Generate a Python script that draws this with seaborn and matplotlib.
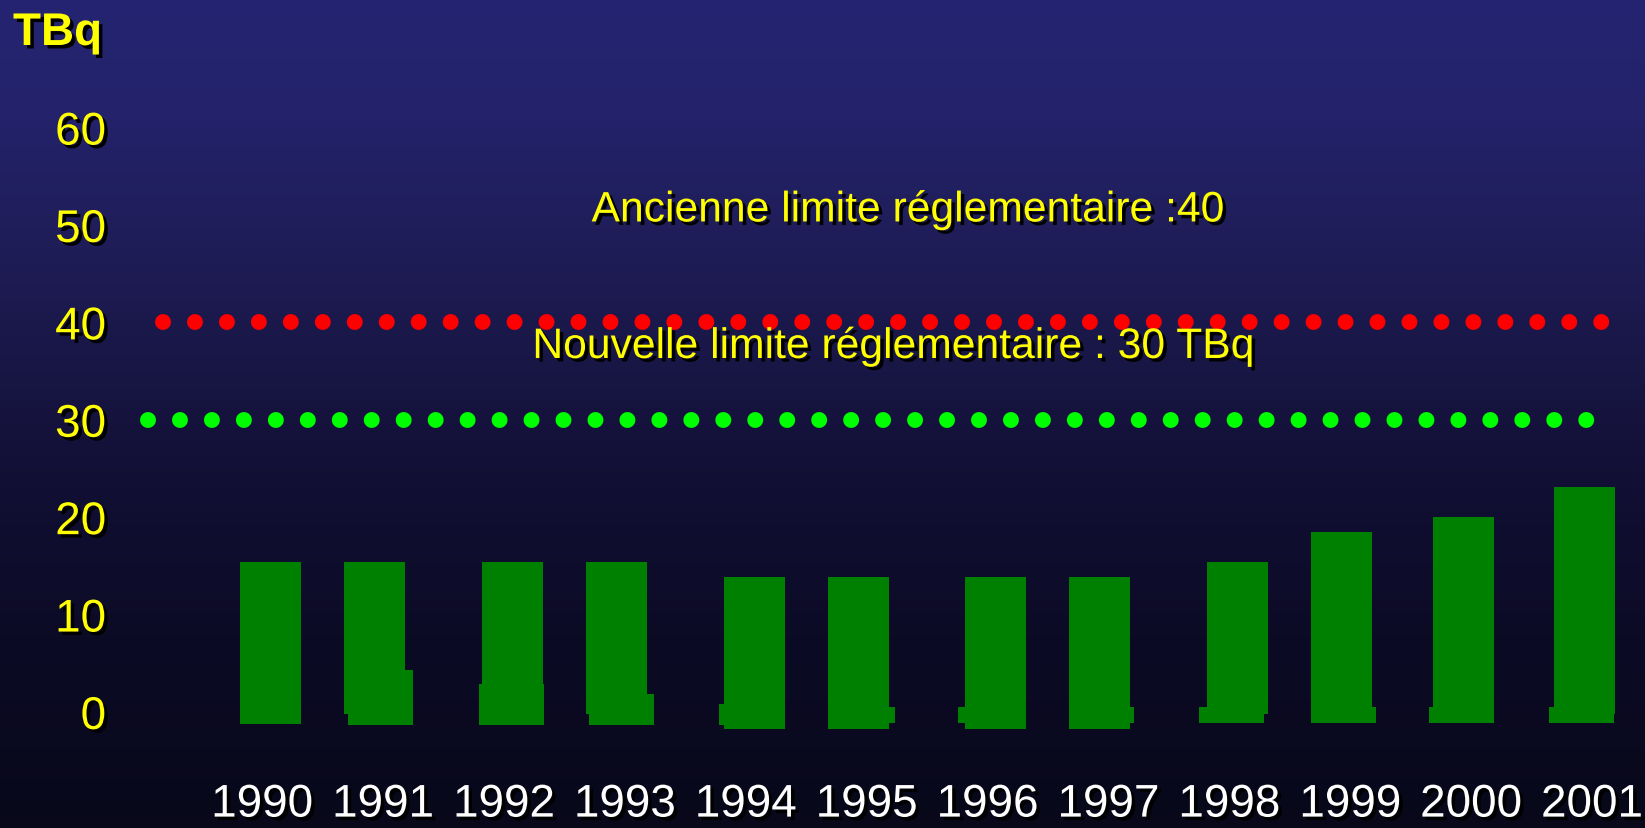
import numpy as np
import pandas as pd
import matplotlib
matplotlib.use("Agg")
import matplotlib.pyplot as plt
import seaborn as sns
from matplotlib import patheffects as pe
from matplotlib.colors import LinearSegmentedColormap

# Rejets annuels (TBq)
annees = ["1990", "1991", "1992", "1993", "1994", "1995",
          "1996", "1997", "1998", "1999", "2000", "2001"]
rejet_haut = [15.4, 15.4, 15.4, 15.4, 13.9, 13.9, 13.9, 13.9, 15.4, 18.5, 20.0, 23.1]
rejet_bas = [-1.2, -0.2, -0.2, -0.2, -1.7, -1.7, -1.7, -1.7, -0.2, -0.2, -0.2, -0.2]
socle_haut = [np.nan, 4.3, 2.9, 1.8, 0.8, 0.5, 0.5, 0.5, 0.5, 0.5, 0.5, 0.5]
socle_bas = [np.nan, -1.3, -1.3, -1.3, -1.3, -1.1, -1.1, -1.1, -1.1, -1.1, -1.1, -1.1]

ancienne_limite = 40
nouvelle_limite = 30
graduations = [0, 10, 20, 30, 40, 50, 60]

texte_ancienne = "Ancienne limite réglementaire :40"
texte_nouvelle = "Nouvelle limite réglementaire : 30 TBq"
unite = "TBq"

sns.set_theme(style="white")
plt.rcParams["font.family"] = ["Liberation Sans", "DejaVu Sans"]

JAUNE = "#ffff00"
VERT_BARRE = "#008000"
W, H = 1645, 829

fig = plt.figure(figsize=(W / 100, H / 100), dpi=100)

# fond dégradé bleu nuit
bg = fig.add_axes([0, 0, 1, 1], zorder=-10)
stops = [(0.0, (37, 36, 114)), (0.145, (35, 34, 106)), (0.30, (31, 29, 87)),
         (0.45, (24, 22, 68)), (0.59, (17, 15, 51)), (0.77, (12, 11, 38)),
         (1.0, (8, 8, 26))]
cmap = LinearSegmentedColormap.from_list(
    "fond", [(p, tuple(c / 255 for c in rgb)) for p, rgb in stops])
grad = np.linspace(0, 1, 512).reshape(-1, 1)
bg.imshow(grad, aspect="auto", cmap=cmap, extent=[0, 1, 0, 1], origin="upper")
bg.set_axis_off()

ax_left, ax_bottom_px = 120, 760
ax = fig.add_axes([ax_left / W, (H - ax_bottom_px) / H, (W - ax_left) / W, ax_bottom_px / H])
ax.set_facecolor("none")

df = pd.DataFrame({
    "annee": annees,
    "hauteur": np.array(rejet_haut) - np.array(rejet_bas),
    "bas": rejet_bas,
})
sns.barplot(data=df, x="annee", y="hauteur", bottom=df["bas"].to_numpy(),
            color=VERT_BARRE, saturation=1, width=0.505, errorbar=None,
            linewidth=0, ax=ax)

# léger décalage des barres par paires
decalage = np.array([8.5, -8.5, 8.5, -8.5, 8.5, -8.5, 8.5, -8.5, 8.5, -8.5, -7.5, -7.5]) / 120.9
for p, dx in zip(ax.patches, decalage):
    p.set_x(p.get_x() + dx)

# socles sous les barres
decalage_socle = np.array([0, 6, -1, 5, -3, 4, -5, 2, -6, 2, -2, -3]) / 120.9
pos = np.arange(len(annees))
ax.bar(pos + decalage + decalage_socle,
       np.array(socle_haut) - np.array(socle_bas), bottom=socle_bas,
       width=0.538, color=VERT_BARRE, linewidth=0)

# limites réglementaires en pointillés
ax.hlines(ancienne_limite, -0.82, 11.15, colors="#ff0000", linewidth=11.5,
          linestyles=[(0, (0.001, 2.0))], capstyle="round", zorder=3)
ax.hlines(nouvelle_limite, -0.94, 10.96, colors="#00ff00", linewidth=11.5,
          linestyles=[(0, (0.001, 2.0))], capstyle="round", zorder=3)

ombre = [pe.withSimplePatchShadow(offset=(2.5, -2.5), shadow_rgbFace="black", alpha=1.0)]

ax.text(5.339, 50.36, texte_ancienne, ha="center", va="baseline",
        color=JAUNE, fontsize=30.7, path_effects=ombre)
ax.text(5.219, 36.34, texte_nouvelle, ha="center", va="baseline",
        color=JAUNE, fontsize=30.7, path_effects=ombre)

ax.set_xlim(-1.175, 11.4387)
ax.set_ylim(-4.83, 73.2)
ax.set_yticks(graduations)
ax.set_yticklabels([str(g) for g in graduations])
ax.tick_params(axis="y", length=0, pad=10, labelsize=33, labelcolor=JAUNE)
ax.tick_params(axis="x", length=0, pad=17, labelsize=33, labelcolor="white")
for lab in ax.get_yticklabels() + ax.get_xticklabels():
    lab.set_path_effects(ombre)
ax.set_xlabel("")
ax.set_ylabel("")
for s in ax.spines.values():
    s.set_visible(False)
ax.grid(False)

fig.text(13 / W, 1 - 46 / H, unite, ha="left", va="baseline", color=JAUNE,
         fontsize=33, fontweight="bold", path_effects=ombre)

fig.savefig("out.png", dpi=100)
